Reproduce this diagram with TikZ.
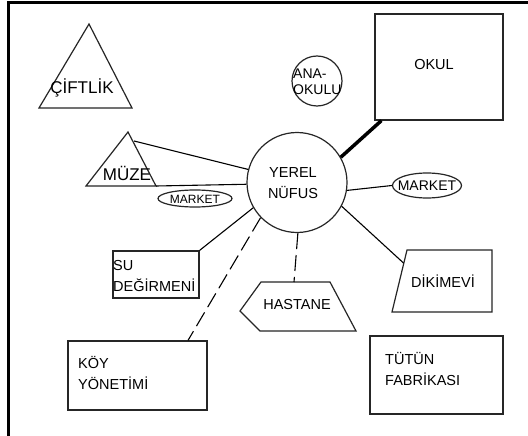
\documentclass[tikz,border=0pt]{standalone}
\usepackage{fontspec}
\setmainfont{Liberation Sans}
\usetikzlibrary{shapes.geometric}
\begin{document}
\begin{tikzpicture}[x=1pt,y=-1pt,
  shp/.style={draw=black!85, line width=1.2pt, inner sep=0pt},
  conn/.style={draw=black, line width=1.1pt},
  dconn/.style={conn, dash pattern=on 16pt off 6pt},
  txt/.style={inner sep=0pt, font=\fontsize{14.5}{20.5}\selectfont},
  ]
\useasboundingbox (0,0) rectangle (528,436);
\fill[white] (0,0) rectangle (528,436);
\draw[line width=2.5pt] (8.5,436) -- (8.5,2.7) -- (528,2.7);

% central circle
\node[shp, circle, minimum size=100pt] (nufus) at (297,182.5) {};
\node[txt, align=center] (nufust) at (293,183) {YEREL\\NÜFUS};

% OKUL
\node[shp, rectangle, minimum width=128pt, minimum height=106pt] (okul) at (439,67) {};
\node[txt] (okult) at (434,65) {OKUL};

% ANA-OKULU
\node[shp, circle, minimum size=50pt] (ana) at (317,81) {};
\node[txt, align=left, anchor=west, font=\fontsize{14}{16}\selectfont] (anat) at (293,82) {ANA-\\OKULU};

% CIFTLIK triangle
\coordinate (cA) at (89,24);
\coordinate (cB) at (39,108);
\coordinate (cC) at (132,108);
\draw[shp] (cA) -- (cB) -- (cC) -- cycle;
\node[txt, font=\fontsize{17}{20}\selectfont] (ciftlik) at (82,88) {ÇİFTLİK};

% MUZE triangle
\coordinate (mA) at (128,132);
\coordinate (mB) at (86,186);
\coordinate (mC) at (156,186);
\coordinate (mR) at (134,141);
\draw[shp] (mA) -- (mB) -- (mC) -- cycle;
\node[txt, font=\fontsize{17}{20}\selectfont] (muze) at (127,173) {MÜZE};

% MARKET left
\node[shp, ellipse, minimum width=74pt, minimum height=17pt] (mk1) at (195,198.5) {};
\node[txt, font=\fontsize{12}{14}\selectfont] (mk1t) at (195,199) {MARKET};

% MARKET right
\node[shp, ellipse, minimum width=69pt, minimum height=25pt] (mk2) at (427,185.5) {};
\node[txt, font=\fontsize{14}{16}\selectfont] (mk2t) at (427,186) {MARKET};

% SU DEGIRMENI
\node[shp, rectangle, minimum width=86pt, minimum height=47pt] (su) at (156,274.5) {};
\node[txt, align=left, anchor=west] (sut) at (113,276) {SU\\DEĞİRMENİ};

% DIKIMEVI
\coordinate (dA) at (407,250);
\coordinate (dB) at (492,250);
\coordinate (dC) at (492,312);
\coordinate (dD) at (392,312);
\coordinate (dE) at (403.5,263);
\draw[shp] (dA) -- (dB) -- (dC) -- (dD) -- cycle;
\node[txt] (dik) at (443,281) {DİKİMEVİ};

% HASTANE
\coordinate (hA) at (261,282);
\coordinate (hB) at (330,282);
\coordinate (hC) at (356,331);
\coordinate (hD) at (260,331);
\coordinate (hE) at (240,311);
\coordinate (hT) at (294,282);
\draw[shp] (hA) -- (hB) -- (hC) -- (hD) -- (hE) -- cycle;
\node[txt] (has) at (297,305) {HASTANE};

% KOY YONETIMI
\node[shp, rectangle, minimum width=139pt, minimum height=69pt] (koy) at (137.5,375.5) {};
\node[txt, align=left, anchor=west] (koyt) at (78,373) {KÖY\\YÖNETİMİ};

% TUTUN FABRIKASI
\node[shp, rectangle, minimum width=133pt, minimum height=78pt] (tut) at (436.5,375) {};
\node[txt, align=left, anchor=west] (tutt) at (385,369) {TÜTÜN\\FABRİKASI};

% connectors
\draw[conn] (mR) -- (nufus.165);
\draw[conn] (mC) -- (nufus.182);
\draw[conn, line width=3.5pt] (nufus.30) -- ([xshift=7pt]okul.south west);
\draw[conn] (nufus.-9) -- (mk2.west);
\draw[conn] (nufus.-28) -- (dE);
\draw[dconn] (nufus.-89) -- (hT);
\draw[dconn] (nufus.224) -- ([xshift=50.5pt]koy.north);
\draw[conn] (nufus.210) -- (su.north east);
\end{tikzpicture}
\end{document}
